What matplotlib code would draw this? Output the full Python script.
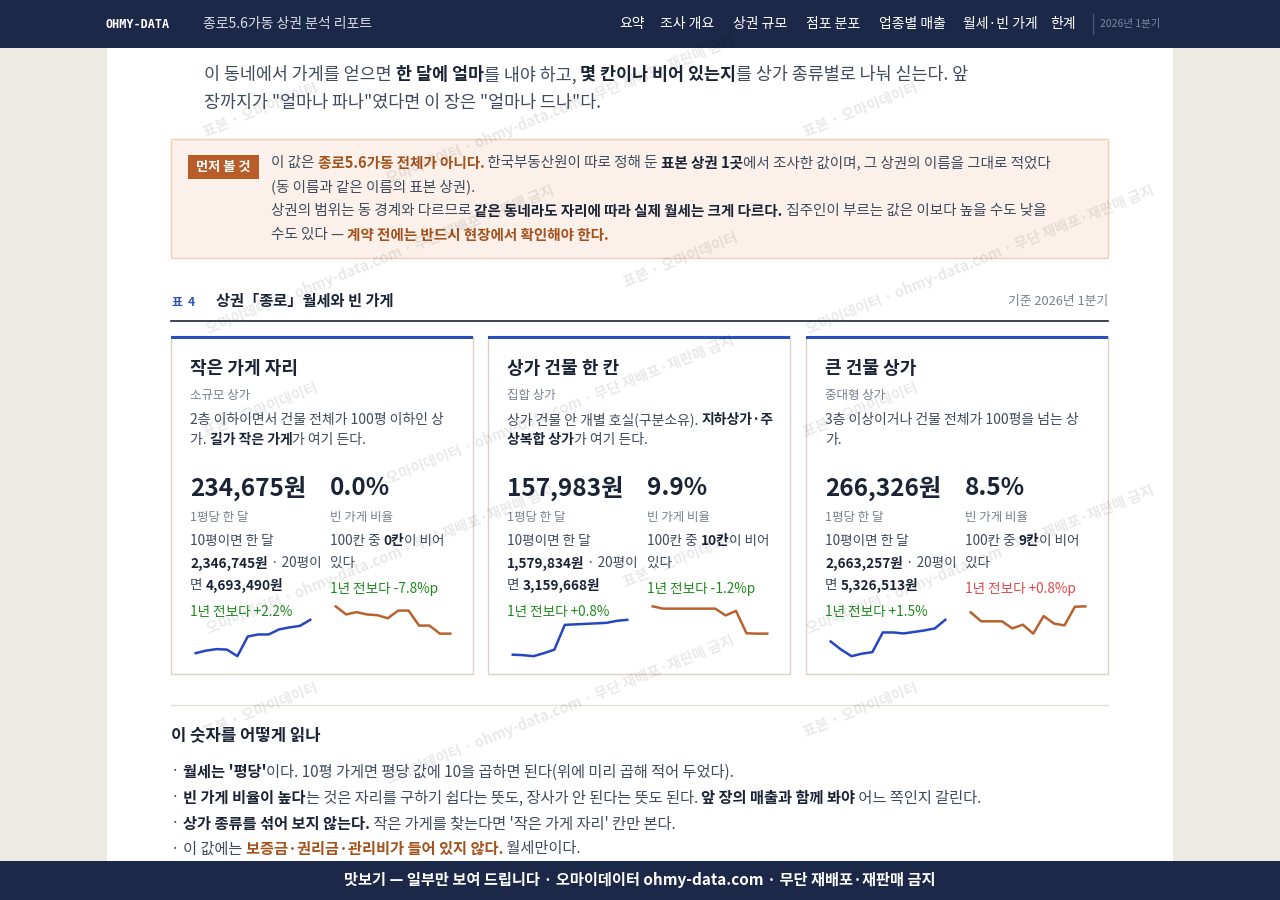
import matplotlib
matplotlib.use("Agg")
import matplotlib.pyplot as plt
from matplotlib.patches import Rectangle

plt.rcParams['font.family'] = ['Noto Sans CJK KR', 'DejaVu Sans']

# ---------------- data ----------------
card_titles = ["작은 가게 자리", "상가 건물 한 칸", "큰 건물 상가"]
card_subs = ["소규모 상가", "집합 상가", "중대형 상가"]
rent_labels = ["234,675원", "157,983원", "266,326원"]
vacancy_labels = ["0.0%", "9.9%", "8.5%"]
rent10 = ["2,346,745원", "1,579,834원", "2,663,257원"]
rent20 = ["4,693,490원", "3,159,668원", "5,326,513원"]
empty_of_100 = ["0칸", "10칸", "9칸"]
rent_change = ["+2.2%", "+0.8%", "+1.5%"]
vac_change = ["-7.8%p", "-1.2%p", "+0.8%p"]
# sparkline series (index-like)
rent_series = [
    [12, 17, 20, 19, 6, 45, 49, 49, 59, 63, 66, 78],
    [9, 8, 6, 12, 19, 68, 69, 70, 71, 72, 76, 78],
    [34, 18, 5, 10, 13, 52, 52, 50, 53, 56, 60, 77],
]
vac_series = [
    [143, 122, 128, 122, 120, 112, 132, 132, 93, 93, 72, 72],
    [144, 138, 138, 138, 138, 138, 138, 120, 132, 73, 72, 72],
    [128, 104, 104, 104, 85, 95, 71, 118, 98, 93, 143, 144],
]

W, H = 1280, 900
fig = plt.figure(figsize=(12.8, 9), dpi=100)
fig.patch.set_facecolor("#edeae4")
R = fig.canvas.get_renderer()

def X(x): return x / W
def Y(y): return 1 - y / H

def rect(x0, y0, x1, y1, fc, ec="none", lw=1, z=1):
    fig.patches.append(Rectangle((X(x0), Y(y1)), X(x1) - X(x0), (y1 - y0) / H,
                                 transform=fig.transFigure, fc=fc, ec=ec, lw=lw, zorder=z))

def line(x0, x1, y, c, lw=1, z=2):
    fig.add_artist(plt.Line2D([X(x0), X(x1)], [Y(y), Y(y)], color=c, lw=lw, zorder=z))

def txt(x, y, s, size=10.5, color="#333d4d", weight="normal", ha="left", z=5, **kw):
    return fig.text(X(x), Y(y), s, fontsize=size, color=color, fontweight=weight,
                    ha=ha, va="center", zorder=z, **kw)

def rich(x, y, segs, size=10.5, z=5):
    for s, w, c in segs:
        t = txt(x, y, s, size=size, color=c, weight=w, z=z)
        x += t.get_window_extent(R).width

N, B, BR, OR = "normal", "bold", "#1b2436", "#a4521c"
G = "#3f4a5c"

# page
rect(107, 0, 1173, 900, "white", z=0)

# intro text
rich(204, 75, [("이 동네에서 가게를 얻으면 ", N, G), ("한 달에 얼마", B, BR), ("를 내야 하고, ", N, G),
               ("몇 칸이나 비어 있는지", B, BR), ("를 상가 종류별로 나눠 싣는다. 앞", N, G)], size=12.5)
txt(204, 103, '장까지가 "얼마나 파나"였다면 이 장은 "얼마나 드나"다.', size=12.5, color=G)

# callout
rect(171, 139, 1108, 258, "#fbf1ea", ec="#f0cdb6", lw=1)
rect(188, 155, 259, 179, "#b85c2a", z=3)
txt(223.5, 167, "먼저 볼 것", size=9.5, color="white", weight=B, ha="center")
cs = 10.5
rich(271, 163, [("이 값은 ", N, G), ("종로5.6가동 전체가 아니다.", B, OR), (" 한국부동산원이 따로 정해 둔 ", N, G),
                ("표본 상권 1곳", B, BR), ("에서 조사한 값이며, 그 상권의 이름을 그대로 적었다", N, G)], size=cs)
txt(271, 187, "(동 이름과 같은 이름의 표본 상권).", size=cs, color=G)
rich(271, 211, [("상권의 범위는 동 경계와 다르므로 ", N, G), ("같은 동네라도 자리에 따라 실제 월세는 크게 다르다.", B, BR),
                (" 집주인이 부르는 값은 이보다 높을 수도 낮을", N, G)], size=cs)
rich(271, 235, [("수도 있다 — ", N, G), ("계약 전에는 반드시 현장에서 확인해야 한다.", B, OR)], size=cs)

# table header
txt(172, 302, "표  4", size=8.5, color="#2a4dbf", weight=B)
txt(216, 301, "상권「종로」월세와 빈 가게", size=11, color=BR, weight=B)
txt(1108, 301, "기준 2026년 1분기", size=9.2, color="#777f8c", ha="right")
line(171, 1108, 321, "#1b2436", lw=1.2)

cards_x = [171, 488, 806]
card_w = 302
desc = [
    [[("2층 이하이면서 건물 전체가 100평 이하인 상", N, G)],
     [("가. ", N, G), ("길가 작은 가게", B, BR), ("가 여기 든다.", N, G)]],
    [[("상가 건물 안 개별 호실(구분소유). ", N, G), ("지하상가·주", B, BR)],
     [("상복합 상가", B, BR), ("가 여기 든다.", N, G)]],
    [[("3층 이상이거나 건물 전체가 100평을 넘는 상", N, G)],
     [("가.", N, G)]],
]
GREEN, RED = "#1e8a1e", "#e04848"
for i, cx in enumerate(cards_x):
    rect(cx, 336, cx + card_w, 674, "white", ec="#ddd3c4", lw=1, z=1)
    rect(cx, 336, cx + card_w, 339, "#2a4dbf", z=2)
    L = cx + 19
    txt(L, 369, card_titles[i], size=13, color=BR, weight=B)
    txt(L, 395, card_subs[i], size=9, color="#7a818c")
    rich(L, 420, desc[i][0], size=10)
    rich(L, 440, desc[i][1], size=10)
    R2 = cx + 159
    txt(L, 488, rent_labels[i], size=17.5, color=BR, weight=B)
    txt(R2, 488, vacancy_labels[i], size=17.5, color=BR, weight=B)
    txt(L, 517, "1평당 한 달", size=9, color="#7a818c")
    txt(R2, 517, "빈 가게 비율", size=9, color="#7a818c")
    txt(L, 541, "10평이면 한 달", size=9.8, color=G)
    rich(L, 563, [(rent10[i], B, BR), (" · 20평이", N, G)], size=9.8)
    rich(L, 585, [("면 ", N, G), (rent20[i], B, BR)], size=9.8)
    rich(R2, 541, [("100칸 중 ", N, G), (empty_of_100[i], B, BR), ("이 비어", N, G)], size=9.8)
    txt(R2, 563, "있다", size=9.8, color=G)
    txt(L, 612, "1년 전보다 " + rent_change[i], size=9.8, color=GREEN)
    vc = RED if vac_change[i].startswith("+") else GREEN
    txt(R2, 589, "1년 전보다 " + vac_change[i], size=9.8, color=vc)
    # sparklines
    ax = fig.add_axes([X(L), Y(658), 126 / W, 40 / H])
    ax.plot(range(len(rent_series[i])), rent_series[i], color="#2447bf", lw=1.8)
    ax.axis("off")
    ax.set_zorder(6)
    ax2 = fig.add_axes([X(R2), Y(635), 126 / W, 30 / H])
    ax2.plot(range(len(vac_series[i])), vac_series[i], color="#b8622f", lw=1.8)
    ax2.axis("off")
    ax2.set_zorder(6)

line(171, 1108, 705, "#e6e2da", lw=1)
txt(171, 735, "이 숫자를 어떻게 읽나", size=12, color=BR, weight=B)
bs = 11
rich(171, 772, [("· ", N, G), ("월세는 '평당'", B, BR), ("이다. 10평 가게면 평당 값에 10을 곱하면 된다(위에 미리 곱해 적어 두었다).", N, G)], size=bs)
rich(171, 798, [("· ", N, G), ("빈 가게 비율이 높다", B, BR), ("는 것은 자리를 구하기 쉽다는 뜻도, 장사가 안 된다는 뜻도 된다. ", N, G),
                ("앞 장의 매출과 함께 봐야", B, BR), (" 어느 쪽인지 갈린다.", N, G)], size=bs)
rich(171, 824, [("· ", N, G), ("상가 종류를 섞어 보지 않는다.", B, BR), (" 작은 가게를 찾는다면 '작은 가게 자리' 칸만 본다.", N, G)], size=bs)
rich(171, 849, [("· 이 값에는 ", N, G), ("보증금·권리금·관리비가 들어 있지 않다.", B, OR), (" 월세만이다.", N, G)], size=bs)

# watermarks (kept inside the page)
wm1 = "표본 · 오마이데이터"
wm2 = "오마이데이터 · ohmy-data.com · 무단 재배포·재판매 금지"
for row, yy in enumerate(range(110, 860, 150)):
    for col, xx in enumerate(range(260, 1100, 300)):
        s = wm1 if (row + col) % 2 == 0 else wm2
        fig.text(X(xx + (row % 2) * 120), Y(yy), s,
                 fontsize=10.5, color="#000000", alpha=0.09, rotation=22, weight=B,
                 ha="center", va="center", zorder=20)

# nav bar
rect(0, 0, 1280, 48, "#1b2847", z=10)
fig.text(X(105), Y(24), "OHMY-DATA", fontsize=8.5, color="white", weight=B, family="DejaVu Sans Mono",
         va="center", zorder=11)
fig.text(X(203), Y(24), "종로5.6가동 상권 분석 리포트", fontsize=10, color="#d8dde8", va="center", zorder=11)
nav = ["요약", "조사 개요", "상권 규모", "점포 분포", "업종별 매출", "월세·빈 가게", "한계"]
navx = [619, 660, 733, 806, 879, 963, 1050]
for s, x in zip(nav, navx):
    fig.text(X(x), Y(24), s, fontsize=10, color="white", va="center", zorder=11)
fig.add_artist(plt.Line2D([X(1093)] * 2, [Y(14), Y(34)], color="#45557a", lw=1, zorder=11))
fig.text(X(1100), Y(24), "2026년 1분기", fontsize=7.5, color="#7d88a3", va="center", zorder=11)

# footer
rect(0, 861, 1280, 900, "#1b2847", z=10)
fig.text(0.5, Y(880), "맛보기 — 일부만 보여 드립니다 · 오마이데이터 ohmy-data.com · 무단 재배포·재판매 금지",
         fontsize=11, color="white", weight=B, ha="center", va="center", zorder=11)

fig.savefig("out.png", dpi=100, facecolor=fig.get_facecolor())
